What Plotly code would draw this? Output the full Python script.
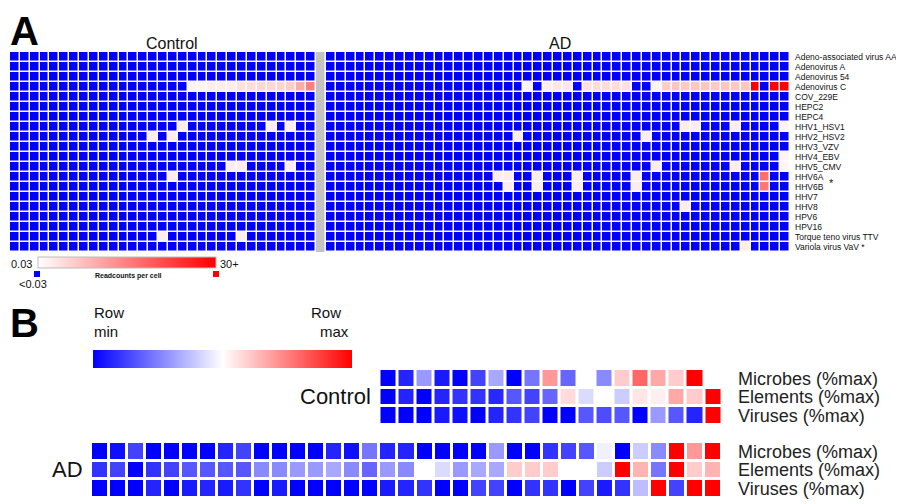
import math
import plotly.graph_objects as go

# the page body has an 8px default margin; the figure fills the rest of the 904x504 window
PAGE_W, PAGE_H, BODY = 904, 504, 8
W, H = PAGE_W - BODY, PAGE_H - BODY
FONT = "Liberation Sans, Arial, sans-serif"
BLUE = "#0000ff"


def PX(x):
    return (x - BODY) / W


def PY(y):
    return 1 - (y - BODY) / H


# ---------------- Panel A data ----------------
viruses = ["Adeno-associated virus AAV", "Adenovirus A", "Adenovirus 54", "Adenovirus C",
           "COV_229E", "HEPC2", "HEPC4", "HHV1_HSV1", "HHV2_HSV2", "HHV3_VZV",
           "HHV4_EBV", "HHV5_CMV", "HHV6A", "HHV6B", "HHV7", "HHV8", "HPV6", "HPV16",
           "Torque teno virus TTV", "Variola virus VaV *"]
n_control = 31
n_ad = 47
threshold = 0.03
top_reads = 30

# read counts per cell; every (virus, sample) not listed is below 0.03
ctrl_hit_virus = ["Adenovirus C", "Adenovirus C", "Adenovirus C", "Adenovirus C", "Adenovirus C",
                  "Adenovirus C", "Adenovirus C", "Adenovirus C", "Adenovirus C", "Adenovirus C",
                  "Adenovirus C", "Adenovirus C", "Adenovirus C",
                  "HHV1_HSV1", "HHV1_HSV1", "HHV1_HSV1",
                  "HHV2_HSV2", "HHV2_HSV2",
                  "HHV5_CMV", "HHV5_CMV", "HHV5_CMV",
                  "HHV6A",
                  "Torque teno virus TTV", "Torque teno virus TTV"]
ctrl_hit_sample = [18, 19, 20, 21, 22, 23, 24, 25, 26, 27, 28, 29, 30,
                   17, 26, 28,
                   14, 16,
                   22, 23, 28,
                   16,
                   15, 23]
ctrl_hit_reads = [0.04, 0.04, 0.05, 0.05, 0.05, 0.07, 0.08, 0.09, 0.09, 0.1, 0.12, 0.3, 1.0,
                  0.05, 0.05, 0.05,
                  0.05, 0.05,
                  0.05, 0.05, 0.05,
                  0.05,
                  0.05, 0.05]

ad_hit_virus = ["Adenovirus C"] * 22 + \
               ["HHV1_HSV1", "HHV1_HSV1", "HHV1_HSV1", "HHV1_HSV1",
                "HHV2_HSV2", "HHV2_HSV2",
                "HHV4_EBV",
                "HHV5_CMV", "HHV5_CMV", "HHV5_CMV",
                "HHV6A", "HHV6A", "HHV6A", "HHV6A", "HHV6A", "HHV6A",
                "HHV6B", "HHV6B", "HHV6B", "HHV6B", "HHV6B",
                "HHV8",
                "Variola virus VaV *"]
ad_hit_sample = [20, 22, 23, 24, 26, 27, 28, 29, 30, 33, 34, 35, 36, 37, 38, 39, 40, 41, 42, 43, 45, 46,
                 36, 37, 41, 46,
                 19, 32,
                 46,
                 33, 41, 46,
                 17, 18, 21, 25, 31, 44,
                 18, 21, 25, 31, 44,
                 36,
                 42]
ad_hit_reads = [0.04, 0.05, 0.06, 0.06, 0.07, 0.08, 0.08, 0.08, 0.07, 0.04, 0.12, 0.15, 0.13, 0.15,
                0.15, 0.13, 0.15, 0.14, 0.15, 30, 30, 30,
                0.05, 0.05, 0.05, 0.04,
                0.05, 0.05,
                0.04,
                0.05, 0.05, 0.04,
                0.05, 0.05, 0.05, 0.05, 0.05, 1.5,
                0.05, 0.05, 0.05, 0.05, 1.2,
                0.05,
                0.05]

# ---------------- Panel B data ----------------
b_rows = ["Microbes (%max)", "Elements (%max)", "Viruses (%max)"]
ctrl_microbes = [0.0, 0.07, 0.3, 0.05, 0.0, 0.13, 0.33, 0.0, 0.23, 0.7, 0.2, 0.5, 0.27, 0.6, 0.8, 0.67, 0.6, 1.0, 0.5]
ctrl_elements = [0.0, 0.07, 0.0, 0.07, 0.1, 0.1, 0.08, 0.17, 0.13, 0.2, 0.57, 0.43, 0.5, 0.4, 0.55, 0.53, 0.67, 0.6, 1.0]
ctrl_viruses = [0.0, 0.0, 0.0, 0.05, 0.03, 0.0, 0.07, 0.1, 0.13, 0.0, 0.0, 0.17, 0.15, 0.17, 0.0, 0.3, 0.17, 0.07, 1.0]
ad_microbes = [0.0, 0.03, 0.13, 0.0, 0.0, 0.0, 0.0, 0.07, 0.13, 0.0, 0.0, 0.0, 0.0, 0.07, 0.03,
               0.23, 0.07, 0.07, 0.0, 0.0, 0.0, 0.0, 0.3, 0.0, 0.0, 0.1, 0.13, 0.17, 0.47, 0.0,
               0.4, 0.27, 1.0, 0.7, 1.0]
ad_elements = [0.1, 0.13, 0.0, 0.1, 0.13, 0.17, 0.17, 0.17, 0.17, 0.27, 0.27, 0.3, 0.3, 0.33, 0.27,
               0.2, 0.3, 0.27, 0.5, 0.43, 0.3, 0.33, 0.33, 0.6, 0.6, 0.6, 0.5, 0.5, 0.4, 1.0,
               0.65, 0.23, 1.0, 0.6, 0.65]
ad_viruses = [0.0, 0.0, 0.0, 0.07, 0.0, 0.05, 0.07, 0.05, 0.1, 0.0, 0.05, 0.0, 0.0, 0.0, 0.0,
              0.0, 0.05, 0.07, 0.1, 0.0, 0.0, 0.13, 0.13, 0.0, 0.1, 0.1, 0.0, 0.13, 0.05, 0.1,
              0.37, 1.0, 0.13, 1.0, 1.0]

# ---------------- build panel A matrices ----------------
gap_col = n_control
n_cols = n_control + 1 + n_ad
reads = [[0.0] * n_cols for _ in viruses]
for v, s, r in zip(ctrl_hit_virus, ctrl_hit_sample, ctrl_hit_reads):
    reads[viruses.index(v)][s] = r
for v, s, r in zip(ad_hit_virus, ad_hit_sample, ad_hit_reads):
    reads[viruses.index(v)][n_control + 1 + s] = r

z_blue, z_red, z_gap = [], [], []
for row in reads:
    zb, zr, zg = [], [], []
    for c, val in enumerate(row):
        if c == gap_col:
            zb.append(None); zr.append(None); zg.append(1)
        elif val < threshold:
            zb.append(1); zr.append(None); zg.append(None)
        else:
            zb.append(None); zr.append(math.log10(min(val, top_reads))); zg.append(None)
    z_blue.append(zb); z_red.append(zr); z_gap.append(zg)

cols_all = list(range(n_cols))

fig = go.Figure()
fig.add_trace(go.Heatmap(x=cols_all, y=viruses, z=z_blue, colorscale=[[0, BLUE], [1, BLUE]],
                         showscale=False, xgap=1.5, ygap=1.5, hoverinfo="skip",
                         xaxis="x", yaxis="y"))
fig.add_trace(go.Heatmap(x=cols_all, y=viruses, z=z_gap, colorscale=[[0, "#c3c3c3"], [1, "#c3c3c3"]],
                         showscale=False, xgap=1.5, ygap=0, hoverinfo="skip",
                         xaxis="x", yaxis="y"))
fig.add_trace(go.Heatmap(x=cols_all, y=viruses, z=z_red,
                         colorscale=[[0, "#ffffff"], [1, "#ff0000"]],
                         zmin=math.log10(threshold), zmax=math.log10(top_reads),
                         xgap=1.5, ygap=1.5, hoverinfo="skip",
                         showscale=True,
                         colorbar=dict(orientation="h", x=PX(38), xanchor="left",
                                       y=PY(263), yanchor="middle",
                                       len=178, lenmode="pixels", thickness=11,
                                       showticklabels=False, ticks="",
                                       outlinewidth=1, outlinecolor="#bbbbbb",
                                       xpad=0, ypad=0),
                         xaxis="x", yaxis="y"))

# ---------------- panel B ----------------
offset = len(ad_microbes) - len(ctrl_microbes)
ctrl_x = [offset + i for i in range(len(ctrl_microbes))]
ad_x = list(range(len(ad_microbes)))
bwr = [[0, BLUE], [0.5, "#ffffff"], [1, "#ff0000"]]
fig.add_trace(go.Heatmap(x=ctrl_x, y=b_rows, z=[ctrl_microbes, ctrl_elements, ctrl_viruses],
                         colorscale=bwr, zmin=0, zmax=1, showscale=False,
                         xgap=3, ygap=3, hoverinfo="skip", xaxis="x2", yaxis="y2"))
fig.add_trace(go.Heatmap(x=ad_x, y=b_rows, z=[ad_microbes, ad_elements, ad_viruses],
                         colorscale=bwr, zmin=0, zmax=1, showscale=True,
                         colorbar=dict(orientation="h", x=PX(93), xanchor="left",
                                       y=PY(359), yanchor="middle",
                                       len=259, lenmode="pixels", thickness=18,
                                       showticklabels=False, ticks="", outlinewidth=0,
                                       xpad=0, ypad=0),
                         xgap=3, ygap=3, hoverinfo="skip", xaxis="x2", yaxis="y3"))

lab_font = dict(family=FONT, size=18, color="#222222")
fig.update_layout(
    width=W, height=H, margin=dict(l=0, r=0, t=0, b=0, autoexpand=False),
    paper_bgcolor="white", plot_bgcolor="white", showlegend=False,
    xaxis=dict(domain=[PX(10), PX(790)], range=[-0.5, n_cols - 0.5], visible=False,
               automargin=False),
    yaxis=dict(domain=[PY(252), PY(52)], anchor="x", autorange="reversed", side="right",
               showgrid=False, zeroline=False, ticks="", ticklabelstandoff=4, automargin=False,
               tickmode="array", tickvals=viruses, ticktext=viruses,
               tickfont=dict(family=FONT, size=8.5, color="#111111")),
    xaxis2=dict(domain=[PX(91), PX(722)], range=[-0.5, len(ad_microbes) - 0.5], visible=False,
                anchor="y3", automargin=False),
    yaxis2=dict(domain=[PY(425), PY(369)], anchor="x2", autorange="reversed", side="right",
                showgrid=False, zeroline=False, ticks="", ticklabelstandoff=15, automargin=False,
                tickmode="array", tickvals=b_rows, ticktext=b_rows, tickfont=lab_font),
    yaxis3=dict(domain=[PY(498), PY(442)], anchor="x2", autorange="reversed", side="right",
                showgrid=False, zeroline=False, ticks="", ticklabelstandoff=15, automargin=False,
                tickmode="array", tickvals=b_rows, ticktext=b_rows, tickfont=lab_font),
)


def ann(text, x, y, size, bold=False, xanchor="center", color="#111111"):
    fig.add_annotation(text=f"<b>{text}</b>" if bold else text, x=PX(x), y=PY(y),
                       xref="paper", yref="paper", xanchor=xanchor, yanchor="middle",
                       showarrow=False, font=dict(family=FONT, size=size, color=color))


ann("A", 8, 31, 40, bold=True, xanchor="left", color="#000000")
ann("B", 8, 323, 40, bold=True, xanchor="left", color="#000000")
ann("Control", 172, 43, 16)
ann("AD", 560, 43, 16)
ann("*", 831, 183, 11)
ann("0.03", 9, 264, 11, xanchor="left")
ann("30+", 218, 264, 11, xanchor="left")
ann("&lt;0.03", 33, 284, 11)
ann("Readcounts per cell", 128, 276, 7, bold=True)
ann("Row", 92, 312, 15, xanchor="left")
ann("min", 92, 331, 15, xanchor="left")
ann("Row", 343, 312, 15, xanchor="right")
ann("max", 351, 331, 15, xanchor="right")
ann("Control", 335, 396, 22)
ann("AD", 67, 469, 22)

# small legend swatches under the read-count bar
fig.add_shape(type="rect", xref="paper", yref="paper", x0=PX(34), x1=PX(40),
              y0=PY(277), y1=PY(271), fillcolor=BLUE, line=dict(width=0))
fig.add_shape(type="rect", xref="paper", yref="paper", x0=PX(213), x1=PX(219),
              y0=PY(277), y1=PY(271), fillcolor="#ff0000", line=dict(width=0))

fig.write_html("out.html")
